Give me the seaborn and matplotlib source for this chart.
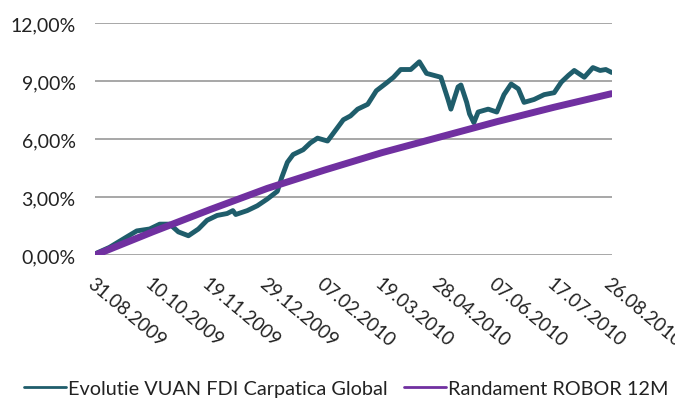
import numpy as np
import pandas as pd
import matplotlib
matplotlib.use("Agg")
import matplotlib.pyplot as plt
import matplotlib.ticker as mticker
import seaborn as sns

# data (day offsets from 31.08.2009, values in %)
start_date = "2009-08-31"
fund_days = [0, 1, 10, 20, 29, 38, 45, 52, 58, 65, 72, 78, 85, 92, 96, 98, 106,
             113, 120, 127, 130, 134, 138, 145, 150, 155, 162, 166, 173, 178,
             183, 190, 196, 203, 208, 213, 220, 226, 231, 236, 241, 246, 248,
             253, 255, 259, 261, 264, 267, 274, 280, 285, 290, 295, 299, 306,
             313, 320, 325, 330, 334, 341, 347, 352, 356, 360]
fund_values = [0.0, 0.1, 0.4, 0.85, 1.25, 1.35, 1.6, 1.6, 1.2, 1.0, 1.35, 1.8,
               2.05, 2.15, 2.3, 2.1, 2.3, 2.55, 2.9, 3.3, 4.0, 4.8, 5.2, 5.45,
               5.8, 6.05, 5.9, 6.3, 7.0, 7.2, 7.55, 7.8, 8.5, 8.9, 9.2, 9.6,
               9.6, 10.0, 9.4, 9.3, 9.2, 8.05, 7.55, 8.7, 8.8, 7.9, 7.3, 6.85,
               7.4, 7.55, 7.4, 8.3, 8.85, 8.6, 7.9, 8.05, 8.3, 8.4, 8.95, 9.3,
               9.55, 9.2, 9.7, 9.55, 9.6, 9.45]
robor_days = [0, 40, 80, 120, 160, 200, 240, 280, 320, 360]
robor_values = [0.0, 1.2, 2.35, 3.45, 4.4, 5.3, 6.1, 6.9, 7.65, 8.35]

tick_days = [0, 40, 80, 120, 160, 200, 240, 280, 320, 360]
y_ticks = [0, 3, 6, 9, 12]

fund_name = "Evolutie VUAN FDI Carpatica Global"
robor_name = "Randament ROBOR 12M"

t0 = pd.Timestamp(start_date)
fund = pd.DataFrame({"date": t0 + pd.to_timedelta(fund_days, unit="D"),
                     "value": fund_values})
robor = pd.DataFrame({"date": t0 + pd.to_timedelta(robor_days, unit="D"),
                      "value": robor_values})
tick_dates = t0 + pd.to_timedelta(tick_days, unit="D")

sns.set_style("white")
plt.rcParams["font.family"] = ["Lato", "DejaVu Sans"]

fig = plt.figure(figsize=(6.75, 4.02), dpi=100)
ax = fig.add_axes([0.141, 0.363, 0.765, 0.577])

sns.lineplot(data=fund, x="date", y="value", ax=ax, color="#1f5d6b",
             linewidth=3.5, label=fund_name)
sns.lineplot(data=robor, x="date", y="value", ax=ax, color="#7030a0",
             linewidth=5.0, label=robor_name)

ax.set_xlim(tick_dates[0], tick_dates[-1])
ax.set_ylim(0, 12)
ax.set_yticks(y_ticks)
ax.yaxis.set_major_formatter(mticker.FuncFormatter(
    lambda v, p: f"{v:.2f}%".replace(".", ",")))
ax.set_xticks(tick_dates)
ax.set_xticklabels([d.strftime("%d.%m.%Y") for d in tick_dates],
                   rotation=-40, ha="left", va="top", rotation_mode="anchor")
ax.tick_params(axis="both", length=0, colors="#222222")
ax.tick_params(axis="y", pad=14, labelsize=14)
ax.tick_params(axis="x", pad=14, labelsize=13.5)
ax.grid(axis="y", color="#a0a0a0", linewidth=1.3)
ax.set_axisbelow(True)
for s in ax.spines.values():
    s.set_visible(False)
ax.set_xlabel("")
ax.set_ylabel("")

ax.get_legend().remove()
leg_handles = [plt.Line2D([], [], color="#1f5d6b", linewidth=2.0),
               plt.Line2D([], [], color="#7030a0", linewidth=2.0)]
fig.legend(leg_handles, [fund_name, robor_name], loc="center",
           bbox_to_anchor=(0.513, 0.03), ncol=2, frameon=False,
           fontsize=14.3, handlelength=2.1, handletextpad=0.1,
           columnspacing=0.85, labelcolor="#222222",
           borderaxespad=0, borderpad=0)

fig.savefig("out.png", dpi=100)
